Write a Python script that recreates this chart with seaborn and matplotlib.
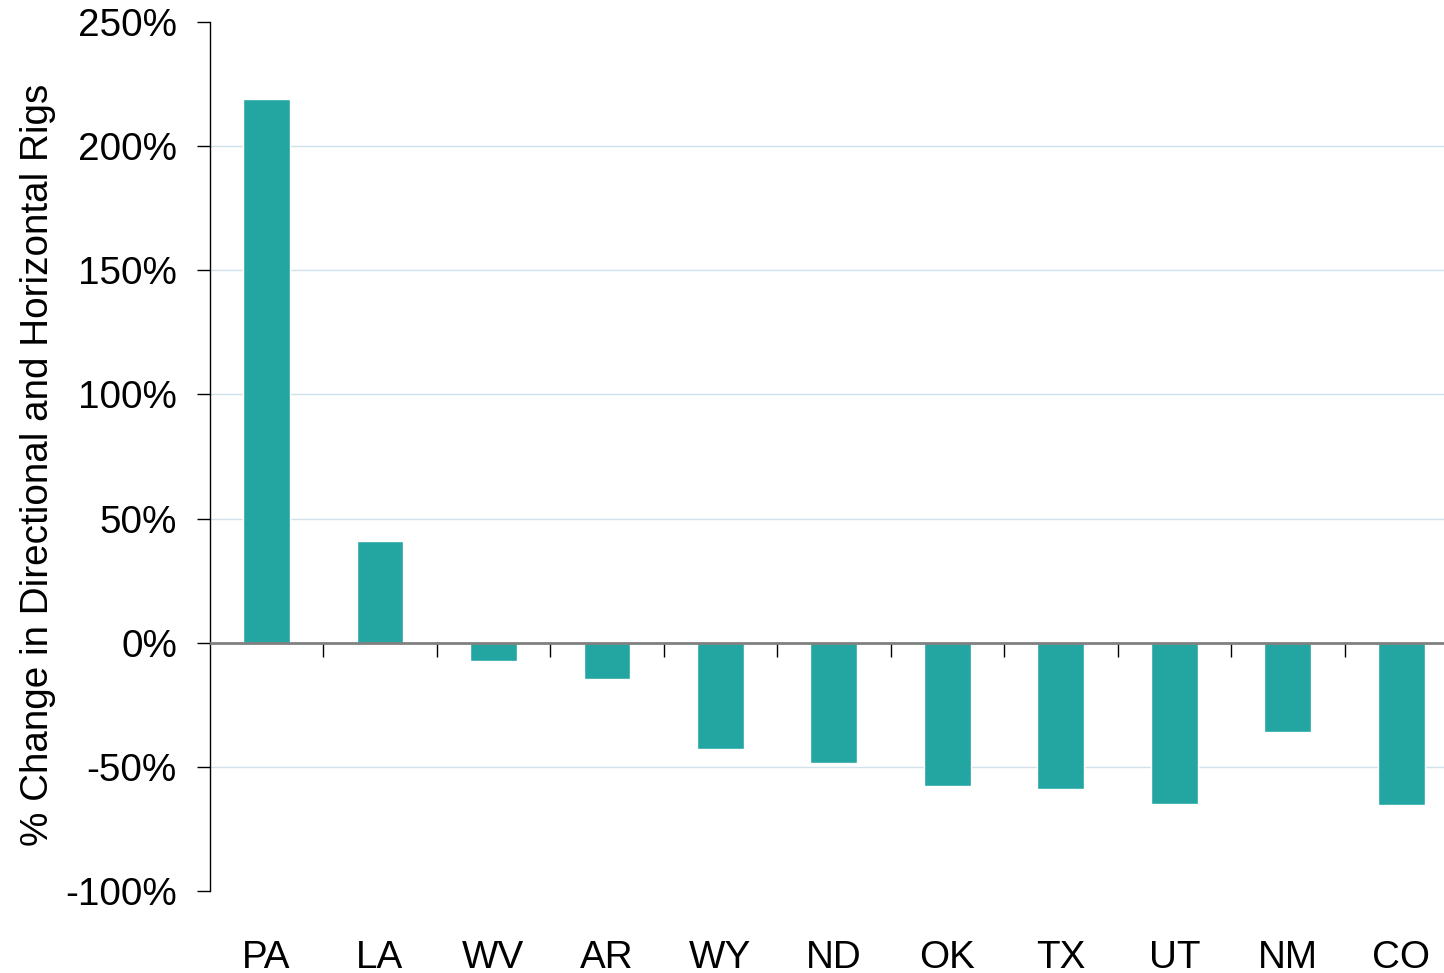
import matplotlib
matplotlib.use('Agg')
import matplotlib.pyplot as plt
import seaborn as sns
import pandas as pd

# Data
states = ['PA', 'LA', 'WV', 'AR', 'WY', 'ND', 'OK', 'TX', 'UT', 'NM', 'CO']
pct_change = [219, 41, -7.2, -14.5, -43, -48.3, -57.6, -58.8, -64.8, -35.8, -65.2]

yticks = [-100, -50, 0, 50, 100, 150, 200, 250]
ytick_labels = [f"{v}%" for v in yticks]

sns.set_style('white')
plt.rcParams['font.family'] = ['Liberation Sans', 'DejaVu Sans']
plt.rcParams['text.color'] = 'black'
plt.rcParams['xtick.color'] = 'black'
plt.rcParams['ytick.color'] = 'black'

df = pd.DataFrame({'state': states, 'change': pct_change})

fig = plt.figure(figsize=(14.44, 9.73), dpi=100)
ax = fig.add_axes([0.1451, 0.0843, 0.8646, 0.8931])

sns.barplot(data=df, x='state', y='change', color='#23a6a2', saturation=1,
            width=0.41, ax=ax, zorder=2)

ax.set_ylim(-100, 250)
ax.set_xlim(-0.5, len(states) - 0.5)
ax.set_yticks(yticks)
ax.set_yticklabels(ytick_labels)
ax.yaxis.grid(True, color='#cfe2ec', lw=1, zorder=0)
ax.set_axisbelow(True)
# no gridline on the outer ticks
gl = ax.yaxis.get_gridlines()
gl[0].set_visible(False)
gl[-1].set_visible(False)

# Axis line at zero
ax.axhline(0, color='#808080', lw=2, zorder=3)

for side in ['top', 'right', 'bottom']:
    ax.spines[side].set_visible(False)
ax.spines['left'].set_color('black')
ax.spines['left'].set_linewidth(1)

ax.tick_params(axis='y', left=True, length=9.5, width=1, color='black',
               pad=14, labelsize=27.8, labelcolor='black')
ax.tick_params(axis='x', bottom=True, length=0, pad=35, labelsize=27.8,
               labelcolor='black')
ax.set_xlabel('')
ax.set_ylabel('')

# Category boundary tick marks along the zero line
zero_frac = (0 - (-100)) / 350
sec = ax.secondary_xaxis(zero_frac)
sec.set_xticks([i + 0.5 for i in range(len(states) - 1)])
sec.set_xticklabels([])
sec.tick_params(length=10, width=1, color='black')
sec.spines['bottom'].set_visible(False)

fig.text(0.0262, 0.522, '% Change in Directional and Horizontal Rigs',
         rotation=90, ha='center', va='center', fontsize=27.8)

fig.savefig('out.png', dpi=100)
